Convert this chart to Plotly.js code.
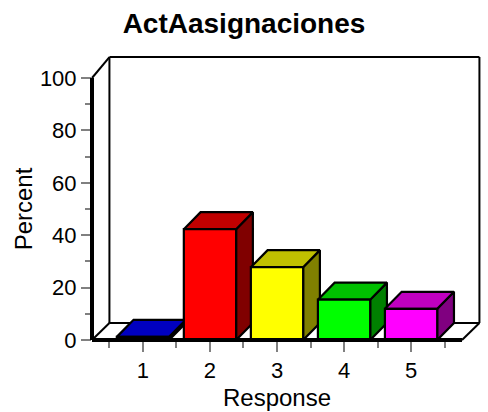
<!DOCTYPE html>
<html>
<head>
<meta charset="utf-8">
<script src="https://cdn.plot.ly/plotly-3.0.1.min.js"></script>
<style>
  html, body { margin: 0; padding: 0; background: #ffffff; }
  #chart { width: 488px; height: 412px; }
</style>
</head>
<body>
<div id="chart"></div>
<script>
// ---- data ----
const categories = ['1', '2', '3', '4', '5'];
const xPositions = [1, 2, 3, 4, 5];
const percentValues = [1.2, 42.3, 27.8, 15.4, 11.9];
const frontColors = ['#0000FF', '#FF0000', '#FFFF00', '#00FF00', '#FF00FF'];
const topColors = ['#0000C0', '#C00000', '#C0C000', '#00C000', '#C000C0'];
const sideColors = ['#000080', '#800000', '#808000', '#008000', '#800080'];
const yTickValues = [0, 20, 40, 60, 80, 100];
const yTickText = ['0', '20', '40', '60', '80', '100'];
const yMinorTicks = [10, 30, 50, 70, 90];
const xMinorTicks = [0.5, 1.5, 2.5, 3.5, 4.5, 5.5];

// ---- geometry / style ----
const X_RANGE = [0.24, 5.76];
const Y_RANGE = [0, 100];
const BAR_W = 0.78;
const DX = 0.25;      // depth offset in category units
const DY = 6.5;       // depth offset in percent units
const WALL_DX = 0.26;
const WALL_TOP = 108;
const EDGE = 'black';

const traces = [];
xPositions.forEach((xc, i) => {
  const v = percentValues[i];
  const xl = xc - BAR_W / 2, xr = xc + BAR_W / 2;
  const common = {type: 'scatter', mode: 'lines', fill: 'toself',
                  line: {color: EDGE, width: 2.2}, hoverinfo: 'skip', showlegend: false};
  traces.push(Object.assign({}, common, {
    x: [xr, xr + DX, xr + DX, xr, xr], y: [0, DY, v + DY, v, 0], fillcolor: sideColors[i]}));
  traces.push(Object.assign({}, common, {
    x: [xl, xr, xr + DX, xl + DX, xl], y: [v, v, v + DY, v + DY, v], fillcolor: topColors[i]}));
  traces.push(Object.assign({}, common, {
    x: [xl, xr, xr, xl, xl], y: [0, 0, v, v, 0], fillcolor: frontColors[i],
    name: categories[i], hoverinfo: 'x+y'}));
});

// convert data coords to paper coords (for box decoration outside the front plot area)
const px = x => (x - X_RANGE[0]) / (X_RANGE[1] - X_RANGE[0]);
const py = y => (y - Y_RANGE[0]) / (Y_RANGE[1] - Y_RANGE[0]);
function seg(x0, y0, x1, y1, w, layer) {
  return {type: 'line', xref: 'paper', yref: 'paper', layer: layer,
          x0: px(x0), y0: py(y0), x1: px(x1), y1: py(y1),
          line: {color: EDGE, width: w}};
}
const L = X_RANGE[0], R = X_RANGE[1];
const shapes = [
  seg(L, 0, L + WALL_DX, DY, 2, 'below'),
  seg(L, 100, L + WALL_DX, WALL_TOP, 2, 'below'),
  seg(L + WALL_DX, DY, L + WALL_DX, WALL_TOP, 2, 'below'),
  seg(L + WALL_DX, WALL_TOP, R + WALL_DX, WALL_TOP, 2, 'below'),
  seg(R + WALL_DX, WALL_TOP, R + WALL_DX, DY, 2, 'below'),
  seg(L + WALL_DX, DY, R + WALL_DX, DY, 2, 'below'),
  seg(R, 0, R + WALL_DX, DY, 2, 'below'),
  // thick front axes
  seg(L, 0, L, 100, 4, 'above'),
  seg(L, 0, R, 0, 4, 'above')
];

const FONT = 'Liberation Sans, Arial, Helvetica, sans-serif';
const layout = {
  width: 488, height: 412,
  margin: {l: 92, r: 26, t: 78, b: 72, pad: 0},
  paper_bgcolor: '#ffffff', plot_bgcolor: 'rgba(0,0,0,0)',
  showlegend: false,
  font: {family: FONT, color: '#000000', size: 22},
  title: {text: '<b>ActAasignaciones</b>', font: {family: FONT, size: 28, color: '#000'},
          x: 0.5, xanchor: 'center', xref: 'container', y: 0.943, yanchor: 'middle'},
  xaxis: {
    range: X_RANGE, tickmode: 'array', tickvals: xPositions, ticktext: categories,
    ticks: 'outside', ticklen: 11, tickwidth: 2, tickcolor: '#808080',
    minor: {tickmode: 'array', tickvals: xMinorTicks, ticks: 'outside', ticklen: 7, tickwidth: 2, tickcolor: '#808080', showgrid: false},
    showgrid: false, zeroline: false, showline: false,
    tickfont: {family: FONT, size: 22, color: '#000'},
    title: {text: 'Response', font: {family: FONT, size: 24, color: '#000'}, standoff: 6}
  },
  yaxis: {
    range: Y_RANGE, tickmode: 'array', tickvals: yTickValues, ticktext: yTickText,
    ticks: 'outside', ticklen: 10, tickwidth: 2, tickcolor: '#808080',
    minor: {tickmode: 'array', tickvals: yMinorTicks, ticks: 'outside', ticklen: 6, tickwidth: 2, tickcolor: '#808080', showgrid: false},
    showgrid: false, zeroline: false, showline: false,
    tickfont: {family: FONT, size: 22, color: '#000'},
    title: {text: 'Percent', font: {family: FONT, size: 24, color: '#000'}, standoff: 0}
  },
  shapes: shapes
};

Plotly.newPlot('chart', traces, layout, {displayModeBar: false, staticPlot: true});
</script>
</body>
</html>
